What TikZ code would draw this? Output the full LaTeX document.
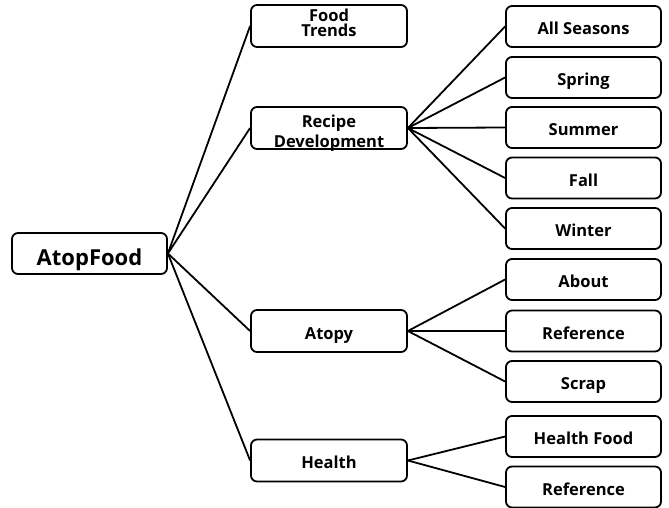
\documentclass[tikz,border=0pt]{standalone}
\usepackage{fontspec}
\setmainfont{Open Sans}
\begin{document}
\begin{tikzpicture}[x=1pt,y=-1pt,
  box/.style={draw=black,line width=1.8pt,rounded corners=6pt,inner sep=0pt,
    font=\bfseries\fontsize{16.5}{16.5}\selectfont,align=center,
    text height=17pt,text depth=1pt},
  link/.style={line width=1.8pt}]
\useasboundingbox (0,0) rectangle (669,508);
% root
\node[box,minimum width=155pt,minimum height=41pt,font=\bfseries\fontsize{22}{22}\selectfont,text height=24pt,text depth=1pt] (root) at (89.5,253.5) {AtopFood};
% level 1
\tikzset{lone/.style={box,minimum width=156pt,minimum height=42pt}}
\node[lone,font=\bfseries\fontsize{16.5}{15}\selectfont,text height=24pt,text depth=2.6pt] (ft) at (329,26) {Food\\Trends};
\node[lone,font=\bfseries\fontsize{16.5}{20}\selectfont,text height=40pt,text depth=2pt] (rd) at (329,128) {Recipe\\Development};
\node[lone] (at) at (329,331) {Atopy};
\node[lone] (he) at (329,460.5) {Health};
% level 2
\tikzset{ltwo/.style={box,minimum width=155pt,minimum height=41pt}}
\node[ltwo] (as) at (583.5,26.5) {All Seasons};
\node[ltwo] (sp) at (583.5,77.5) {Spring};
\node[ltwo] (su) at (583.5,127.5) {Summer};
\node[ltwo] (fa) at (583.5,178) {Fall};
\node[ltwo] (wi) at (583.5,228.5) {Winter};
\node[ltwo] (ab) at (583.5,279.5) {About};
\node[ltwo] (re1) at (583.5,331) {Reference};
\node[ltwo] (sc) at (583.5,381.5) {Scrap};
\node[ltwo] (hf) at (583.5,436.5) {Health Food};
\node[ltwo] (re2) at (583.5,487) {Reference};
% connectors
\foreach \t in {ft,rd,at,he} \draw[link] (root.east) -- (\t.west);
\foreach \t in {as,sp,su,fa,wi} \draw[link] (rd.east) -- (\t.west);
\foreach \t in {ab,re1,sc} \draw[link] (at.east) -- (\t.west);
\foreach \t in {hf,re2} \draw[link] (he.east) -- (\t.west);
\end{tikzpicture}
\end{document}
